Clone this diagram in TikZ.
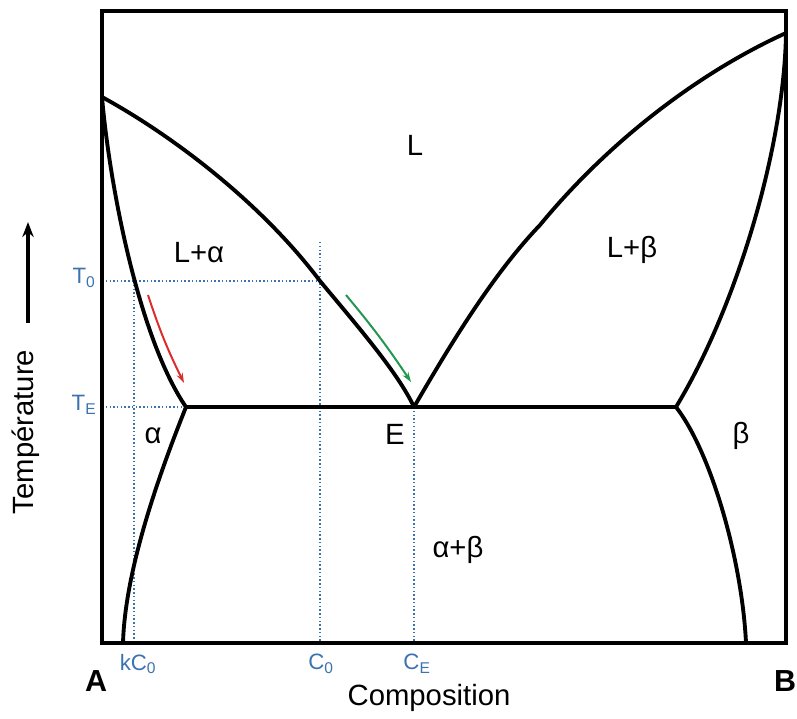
\documentclass[tikz,border=0pt]{standalone}
\usepackage{fontspec}
\setmainfont{Liberation Sans}
\usepackage{xcolor}
\usetikzlibrary{arrows.meta,positioning}

\definecolor{guideblue}{RGB}{60,115,175}
\definecolor{pathred}{RGB}{220,45,45}
\definecolor{pathgreen}{RGB}{35,150,80}

\begin{document}
\begin{tikzpicture}[x=0.03cm, y=-0.03cm,
    phase/.style={line width=3.3pt, black, line join=round},
    guide/.style={line width=1.2pt, guideblue, dotted},
    lab/.style={font=\fontsize{25}{30}\selectfont, inner sep=0pt},
    tlab/.style={font=\fontsize{19}{22}\selectfont, text=guideblue, inner sep=0pt},
    arr/.style={-{Stealth[length=3mm, width=2mm]}, line width=1.7pt}
]
    \useasboundingbox (0,0) rectangle (797,718);

    % key points of the diagram
    \coordinate (TA) at (102,97);
    \coordinate (TB) at (786,33);
    \coordinate (E) at (414,407);
    \coordinate (aE) at (186,407);
    \coordinate (bE) at (676,407);
    \coordinate (aBot) at (123,643);
    \coordinate (bBot) at (746,643);
    \coordinate (P0) at (320,281);
    \coordinate (S0) at (134,281);
    \coordinate (Q) at (540,225);

    % guide lines
    \draw[guide] (102,281) -- (P0);
    \draw[guide] (S0) -- (134,643);
    \draw[guide] (320,242) -- (320,643);
    \draw[guide] (102,407) -- (aE);
    \draw[guide] (E) -- (414,643);

    % phase boundaries
    \draw[phase] (TA) .. controls (175,137) and (262,204) .. (P0)
                      .. controls (360,329) and (398,373) .. (E);
    \draw[phase] (E) .. controls (454,338) and (495,272) .. (Q)
                     .. controls (610,140) and (700,72) .. (TB);
    \draw[phase] (TA) .. controls (110,190) and (140,340) .. (aE);
    \draw[phase] (TB) .. controls (784,150) and (735,310) .. (bE);
    \draw[phase] (aE) .. controls (156,482) and (125,573) .. (aBot);
    \draw[phase] (bE) .. controls (711,452) and (742,560) .. (bBot);
    \draw[phase] (aE) -- (bE);

    % frame
    \draw[line width=3.5pt] (102,11) rectangle (786,643);

    % cooling paths
    \coordinate (r1) at (148,295);
    \coordinate (r2) at (184,383);
    \coordinate (g1) at (346,295);
    \coordinate (g2) at (411,382);
    \draw[arr, pathred] (r1) to[bend right=4] (r2);
    \draw[arr, pathgreen] (g1) to[bend left=3] (g2);

    % temperature axis
    \coordinate (t1) at (28,323);
    \coordinate (t2) at (28,222);
    \draw[-{Stealth[length=4.5mm, width=3.4mm]}, line width=3pt] (t1) -- (t2);
    \node[lab, rotate=90] (temp) at (26,432) {Température};

    % region labels
    \node[lab] (liq) at (415,145) {L};
    \node[lab] (la) at (199,253) {L+α};
    \node[lab] (lb) at (632,250) {L+β};
    \node[lab] (alpha) at (153,436) {α};
    \node[lab] (beta) at (741,436) {β};
    \node[lab] (eut) at (395,434) {E};
    \node[lab] (ab) at (458,550) {α+β};

    % axis labels
    \node[tlab] (T0) at (84,278) {T\textsubscript{0}};
    \node[tlab] (TE) at (84,405) {T\textsubscript{E}};
    \node[tlab] (kC0) at (138,664) {kC\textsubscript{0}};
    \node[tlab] (C0) at (321,664) {C\textsubscript{0}};
    \node[tlab] (CE) at (417,664) {C\textsubscript{E}};
    \node[lab, font=\fontsize{26}{30}\selectfont\bfseries] (A) at (96,681) {A};
    \node[lab, font=\fontsize{26}{30}\selectfont\bfseries] (B) at (785,681) {B};
    \node[lab] (comp) at (429,698) {Composition};
\end{tikzpicture}
\end{document}
